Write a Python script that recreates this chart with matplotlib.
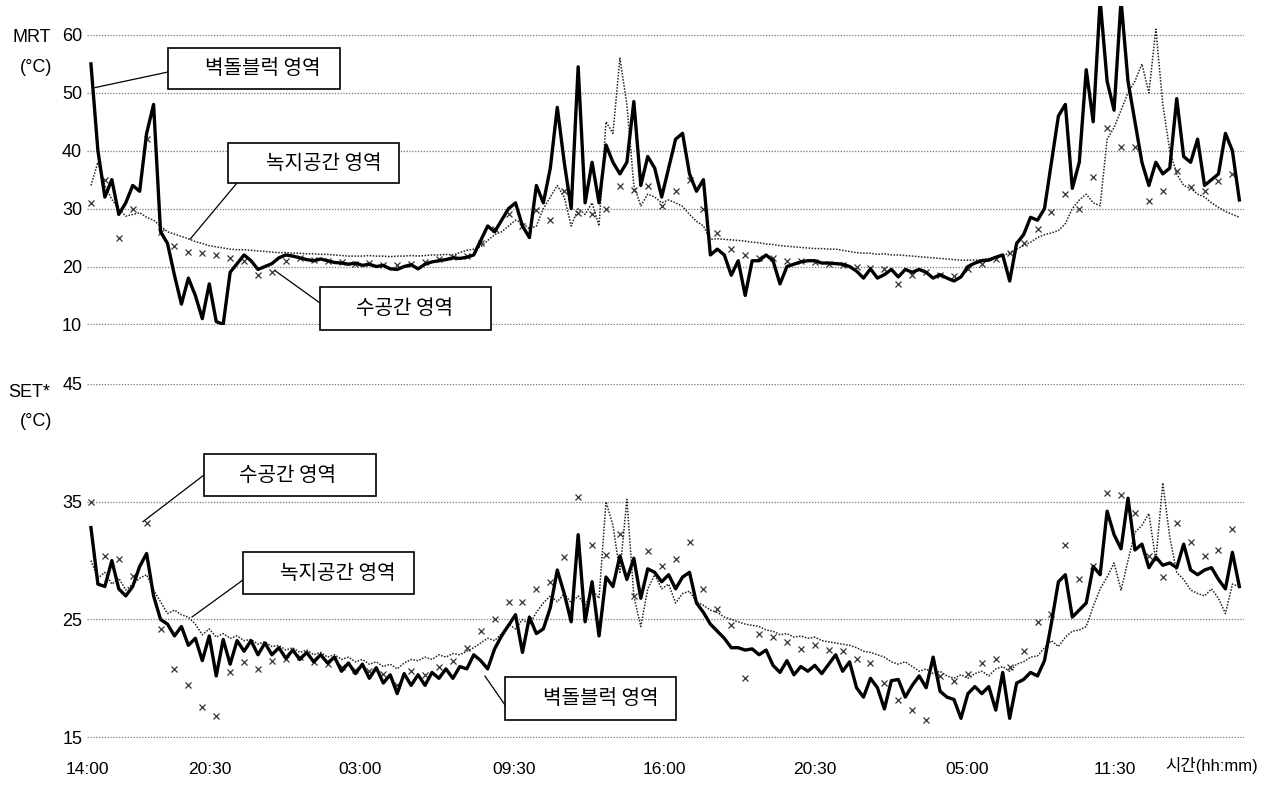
import numpy as np
import matplotlib.pyplot as plt
from matplotlib.patches import Rectangle

plt.rcParams['font.family'] = ['Liberation Sans', 'Noto Sans CJK KR', 'DejaVu Sans']

# elapsed hours since the start of logging
hours = np.arange(166) * 0.3
hours_x = np.arange(83) * 0.6

# MRT (top)
mrt_brick = [55, 40, 32, 35, 29, 31, 34, 33, 43, 48, 26, 24, 18.5, 13.5, 18, 15, 11, 17, 10.5, 10,
             19, 20.5, 22, 21, 19.5, 20, 20.5, 21.5, 22, 21.8, 21.5, 21.2, 21, 21.3, 21, 20.7, 20.6, 20.4, 20.6, 20.2,
             20.4, 20, 20.2, 19.6, 19.5, 20, 20.3, 19.6, 20.4, 20.8, 21, 21.2, 21.5, 21.4, 21.6, 22, 24.5, 27, 26, 28,
             30, 31, 27, 25, 34, 31, 37, 47.5, 38, 30, 54.5, 31, 38, 31, 41, 38, 36, 38, 48.5, 34,
             39, 37, 32, 37, 42, 43, 36, 33, 35, 22, 23, 22, 18.5, 21, 15, 21, 21, 22, 21, 17,
             20, 20.4, 20.8, 21, 21, 20.6, 20.6, 20.5, 20.4, 20, 19.2, 18, 19.6, 18, 18.6, 19.5, 18.2, 19.5, 19, 19.5,
             19, 18, 18.6, 18, 17.5, 18.2, 20, 20.6, 21, 21.1, 21.6, 22, 17.5, 24, 25.5, 28.5, 28, 30, 38, 46,
             48, 33.5, 38, 54, 45, 66, 52, 47, 66, 52, 45, 38, 34, 38, 36, 37, 49, 39, 38, 42,
             34, 35, 36, 43, 40, 31.5]
mrt_green = [34, 38, 34, 31.6, 30, 28.7, 29, 29.3, 28.5, 28, 27, 26, 25.6, 25.2, 24.8, 24.3, 24, 23.6, 23.4, 23.2,
             23, 22.9, 22.9, 22.8, 22.7, 22.6, 22.5, 22.4, 22.4, 22.3, 22.3, 22.2, 22.2, 22.1, 22.1, 22, 21.9, 21.8, 21.8, 21.8,
             21.9, 21.8, 21.8, 21.7, 21.8, 21.8, 21.9, 21.8, 21.9, 22, 22, 22.1, 22, 22.4, 22.8, 23, 23.4, 24.5, 25.5, 26,
             27, 28, 27.5, 26.5, 27, 30, 32, 34, 32, 27, 30, 29, 31, 27, 45, 43, 56, 48, 34, 30.5,
             32.5, 32, 31, 31.5, 31, 30.4, 29, 27.8, 27, 24.7, 24.8, 24.7, 24.6, 24.5, 24.4, 24.2, 24.1, 23.9, 23.8, 23.6,
             23.5, 23.4, 23.3, 23.2, 23.1, 23.1, 23, 23, 22.8, 22.6, 22.4, 22.3, 22.3, 22.1, 22.2, 22, 22, 21.9, 21.8, 21.7,
             21.6, 21.5, 21.4, 21.3, 21.2, 21.1, 21.1, 21.1, 21.2, 21.4, 21.6, 21.8, 22.4, 23, 23.6, 24.2, 25, 25.5, 25.8, 26.2,
             27.4, 30, 31.5, 32.5, 31, 30.5, 42, 44, 47, 50, 52, 55, 50, 61, 48, 40, 36, 34, 33.5, 32.5,
             32, 31, 30.2, 29.5, 29, 28.5]
mrt_water = [31, 35, 25, 30, 42, 26, 23.5, 22.5, 22.3, 22, 21.5, 21, 18.5, 19, 21, 21.5, 21.2, 21, 20.8, 20.5,
             20.6, 20.3, 20.2, 20.5, 20.8, 21.3, 21.6, 21.8, 24, 26.5, 29, 27, 29.8, 28, 33, 29.3, 29, 30, 33.9, 33.3,
             33.9, 30.4, 33, 35, 30, 25.8, 23, 22, 21.5, 21.5, 21, 21, 20.8, 20.5, 20.3, 20, 19.8, 19.5, 17, 18.5,
             19, 18.5, 18.3, 19.5, 20.5, 21.3, 22.3, 24, 26.5, 29.5, 32.5, 30, 35.4, 44, 40.6, 40.6, 31.4, 33, 36.5, 33.7,
             33, 34.8, 36]

# SET* (bottom)
set_brick = [32.8, 28, 27.8, 30, 27.6, 27, 27.8, 29.5, 30.6, 27, 25, 24.6, 23.6, 24.4, 22.8, 23.4, 21.5, 23.6, 20.2, 23.3,
             21.2, 23.2, 22.3, 23.2, 22, 23, 22, 22.6, 21.7, 22.4, 21.6, 22.2, 21.4, 22, 21.3, 21.8, 20.6, 21.3, 20.4, 21.2,
             20, 20.9, 19.6, 20.3, 18.7, 20.4, 19.4, 20.3, 19.4, 20.5, 20, 20.8, 20, 21, 20.8, 22, 21.5, 20.8, 22.5, 23.6,
             24.5, 25.4, 22.2, 25.2, 23.8, 24.2, 26, 29.2, 27.2, 24.8, 32.2, 24.8, 28.2, 23.6, 28.6, 27.8, 30.4, 28.4, 30.2, 26.8,
             29.3, 29, 28.2, 28.8, 27.6, 28.6, 29, 26.4, 25.6, 24.6, 24, 23.4, 22.6, 22.6, 22.4, 22.5, 22, 22.4, 21.1, 20.5,
             21.5, 20.3, 21, 20.6, 21.1, 20.4, 21.2, 22, 20.6, 21.4, 19.2, 18.4, 20, 19.2, 17.4, 19.8, 19.9, 18.4, 19.4, 20.2,
             19.2, 21.8, 18.9, 18.4, 18.2, 16.6, 18.7, 19.3, 18.7, 19.3, 17.3, 20.5, 16.6, 19.6, 19.9, 20.5, 20.2, 21.5, 24.7, 28.2,
             28.8, 25.2, 25.8, 26.4, 29.5, 28.8, 34.2, 32.2, 31, 35.3, 30.9, 31.4, 29.4, 30.3, 29.6, 29.8, 29.4, 31.4, 29.2, 28.8,
             29.2, 29.4, 28.4, 27.6, 30.7, 27.8]
set_green = [30, 28.5, 29, 28, 28.5, 27.5, 28, 28.5, 28.8, 27.5, 26.5, 25.5, 25.8, 25.4, 25.2, 24.6, 23.7, 24.2, 23.5, 23.8,
             23.4, 23.6, 23.2, 23.3, 22.9, 23.1, 22.7, 22.8, 22.4, 22.6, 22.2, 22.4, 22, 22.2, 21.8, 22, 21.6, 21.8, 21.4, 21.6,
             21.2, 21.4, 21, 21.2, 20.8, 21.3, 21.6, 21.5, 21.8, 21.6, 22, 21.8, 22.1, 22, 22.3, 22.6, 23, 23.4, 23.2, 23.8,
             24.6, 24.2, 25, 24.6, 25.6, 26.4, 27, 26.5, 27.2, 26.4, 27, 26.2, 27.5, 26.8, 35, 33, 29, 35.2, 27, 24.4,
             27.6, 28.8, 27.6, 28, 26.4, 27.2, 27.4, 26.5, 26.2, 25.8, 25.6, 25.2, 25, 24.8, 24.6, 24.5, 24.4, 24.1, 24, 23.7,
             23.8, 23.5, 23.6, 23.4, 23.5, 23.2, 23.1, 23, 22.9, 22.8, 22.6, 22.3, 22.2, 22, 21.8, 21.4, 21.2, 21.4, 21, 20.6,
             20.8, 20.4, 20.6, 20.2, 20, 20.3, 20, 20.4, 20.6, 20.2, 20.8, 21, 20.6, 21.2, 21.4, 21.8, 21.9, 22.6, 23.2, 22.7,
             23.5, 24, 24.1, 24.4, 26.1, 27.6, 28.6, 29.8, 27.5, 30, 32.4, 33, 34, 30, 36.6, 32, 29, 28.4, 27.5, 27.2,
             27, 27.6, 26.8, 25.5, 28, 27.8]
set_water = [35, 30.4, 30.1, 28.7, 33.2, 24.2, 20.8, 19.4, 17.6, 16.8, 20.5, 21.4, 20.8, 21.5, 21.6, 21.8, 21.4, 21.2, 21, 20.7,
             20.6, 20.4, 19.4, 20.6, 20.3, 21, 21.5, 22.6, 24, 25, 26.5, 26.5, 27.6, 28.2, 30.3, 35.4, 31.3, 30.5, 32.3, 27,
             30.8, 29.5, 30.1, 31.6, 27.6, 25.9, 24.5, 20, 23.8, 23.5, 23.1, 22.5, 22.8, 22.4, 22.3, 21.6, 21.3, 19.6, 18.2, 17.3,
             16.5, 20.2, 19.8, 20.4, 21.3, 21.6, 21, 22.3, 24.8, 25.5, 31.3, 28.4, 29.5, 35.7, 35.6, 34, 30.4, 28.6, 33.2, 31.6,
             30.4, 30.9, 32.7]

tick_hours = [-0.15, 5.13, 11.59, 18.23, 24.7, 31.2, 37.76, 44.14]
tick_labels = ['14:00', '20:30', '03:00', '09:30', '16:00', '20:30', '05:00', '11:30']

fig = plt.figure(figsize=(12.71, 7.87), dpi=100)
ax1 = fig.add_axes([87 / 1271, 1 - 325 / 787, 1157 / 1271, 319 / 787])
ax2 = fig.add_axes([87 / 1271, 1 - 738 / 787, 1157 / 1271, 354 / 787])


def draw(ax, green, water, brick):
    ax.plot(hours, green, color='#222222', lw=1.1, ls=(0, (1, 1)), zorder=2)
    ax.plot(hours_x, water, ls='none', marker='x', ms=4, mew=0.9, color='#333333', zorder=2)
    ax.plot(hours, brick, color='black', lw=2.4, zorder=3)
    ax.set_xlim(-0.17, 49.7)
    for s in ax.spines.values():
        s.set_visible(False)
    ax.yaxis.grid(True, ls=(0, (1, 1.3)), color='#777777', lw=0.9)
    ax.tick_params(length=0, labelsize=13, pad=3.5)


def callout(ax, text, box, text_x, start, target):
    x0, y0, w, h = box
    ax.add_patch(Rectangle((x0, y0), w, h, transform=ax.transAxes, fc='white',
                           ec='black', lw=1.2, clip_on=False, zorder=6))
    ax.text(text_x, y0 + h / 2, text, transform=ax.transAxes, ha='center', va='center',
            fontsize=14.5, family=['Noto Sans CJK KR', 'DejaVu Sans'], zorder=7)
    ax.annotate('', xy=target, xycoords='data', xytext=start, textcoords='axes fraction',
                arrowprops=dict(arrowstyle='-', color='black', lw=0.9, shrinkA=0, shrinkB=0),
                annotation_clip=False, zorder=5)


draw(ax1, mrt_green, mrt_water, mrt_brick)
ax1.set_ylim(9.9, 65)
ax1.set_yticks([10, 20, 30, 40, 50, 60])
ax1.set_xticks([])

draw(ax2, set_green, set_water, set_brick)
ax2.set_ylim(14.93, 45)
ax2.set_yticks([15, 25, 35, 45])
ax2.set_xticks(tick_hours)
ax2.set_xticklabels(tick_labels)
ax2.tick_params(axis='x', pad=17, labelsize=12.5)

callout(ax1, '벽돌블럭 영역', (0.0700, 0.7398, 0.1487, 0.1285), 0.1521, (0.0700, 0.7931), (0.17, 50.9))
callout(ax1, '녹지공간 영역', (0.1219, 0.4451, 0.1478, 0.1254), 0.2048, (0.1296, 0.4451), (4.27, 24.7))
callout(ax1, '수공간 영역', (0.2014, -0.0157, 0.1478, 0.1348), 0.2748, (0.2014, 0.0690), (7.93, 19.3))

callout(ax2, '수공간 영역', (0.1011, 0.6836, 0.1487, 0.1186), 0.1737, (0.1011, 0.7429), (2.24, 33.3))
callout(ax2, '녹지공간 영역', (0.1348, 0.4068, 0.1478, 0.1186), 0.2169, (0.1348, 0.4463), (4.35, 25.2))
callout(ax2, '벽돌블럭 영역', (0.3613, 0.0508, 0.1478, 0.1215), 0.4443, (0.3613, 0.0932), (16.98, 20.2))

fig.text(12 / 1271, 1 - 38 / 787, 'MRT', fontsize=13, va='center', ha='left')
fig.text(20 / 1271, 1 - 67 / 787, '(°C)', fontsize=13, va='center', ha='left')
fig.text(8 / 1271, 1 - 392 / 787, 'SET*', fontsize=13, va='center', ha='left')
fig.text(20 / 1271, 1 - 422 / 787, '(°C)', fontsize=13, va='center', ha='left')
ax2.text(0.9317, -0.079, '시간(hh:mm)', transform=ax2.transAxes, fontsize=12, va='center', ha='left')

fig.savefig('out.png', dpi=100)
